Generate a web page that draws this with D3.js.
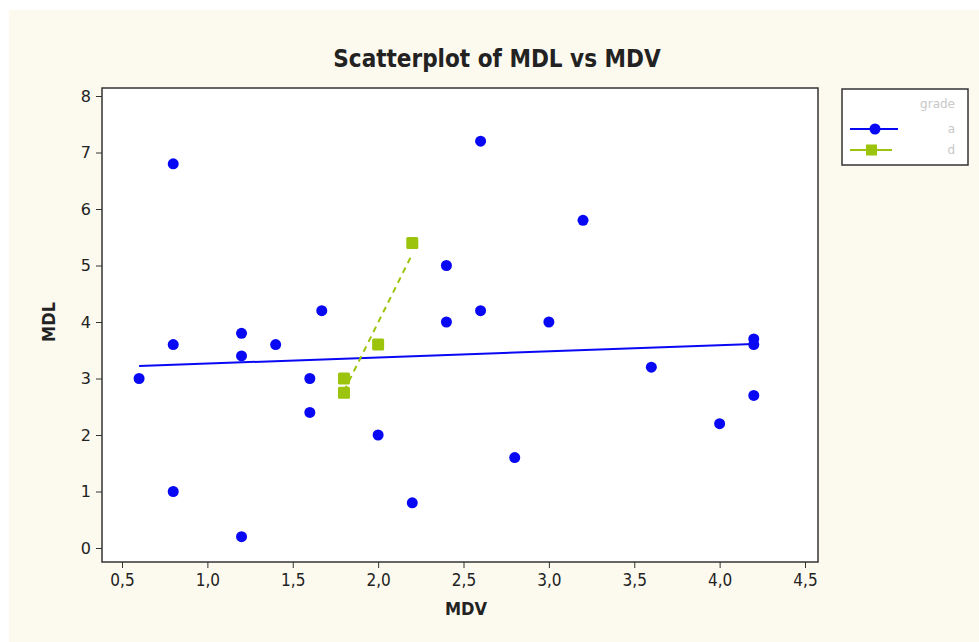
<!DOCTYPE html>
<html>
<head>
<meta charset="utf-8">
<script src="https://cdn.jsdelivr.net/npm/d3@7"></script>
<style>
    body { margin: 0; background: #fff; }
    #container { width: 979px; height: 642px; }
</style>
</head>
<body>
<div id="container"></div>
<script>
// Group "a" (blue dots)
const mdvA = [0.6, 0.8, 0.8, 0.8, 1.2, 1.2, 1.2, 1.4, 1.6, 1.6, 1.67, 2.0, 2.2, 2.4, 2.4, 2.6, 2.6, 2.8, 3.0, 3.2, 3.6, 4.0, 4.2, 4.2, 4.2];
const mdlA = [3.0, 6.8, 3.6, 1.0, 3.8, 3.4, 0.2, 3.6, 3.0, 2.4, 4.2, 2.0, 0.8, 5.0, 4.0, 7.2, 4.2, 1.6, 4.0, 5.8, 3.2, 2.2, 3.7, 3.6, 2.7];
// Group "d" (green squares)
const mdvD = [1.8, 1.8, 2.0, 2.2];
const mdlD = [3.0, 2.75, 3.6, 5.4];

const groups = ["a", "d"];
const xTicks = [0.5, 1.0, 1.5, 2.0, 2.5, 3.0, 3.5, 4.0, 4.5];
const yTicks = [0, 1, 2, 3, 4, 5, 6, 7, 8];

const width = 979;
const height = 642;

const colors = { a: "#0808f4", d: "#9cc40c" };

const svg = d3.select("#container").append("svg")
    .attr("width", width)
    .attr("height", height)
    .attr("style", "font-family: Tahoma, 'DejaVu Sans', sans-serif;");

// cream background
svg.append("rect")
    .attr("x", 9).attr("y", 10)
    .attr("width", width - 9).attr("height", height - 10)
    .attr("fill", "#fcf9ee");

// plot frame
const frame = { left: 102, top: 88, right: 818, bottom: 562 };
svg.append("rect")
    .attr("x", frame.left).attr("y", frame.top)
    .attr("width", frame.right - frame.left)
    .attr("height", frame.bottom - frame.top)
    .attr("fill", "#ffffff");

const x = d3.scaleLinear().domain([0.5, 4.5]).range([122, 805]);
const y = d3.scaleLinear().domain([0, 8]).range([548, 96]);

// axes
const xAxis = svg.append("g")
    .attr("transform", `translate(0,${frame.bottom})`)
    .call(d3.axisBottom(x).tickValues(xTicks).tickSize(6).tickPadding(6)
        .tickFormat(d => d3.format(".1f")(d).replace(".", ",")));
xAxis.select(".domain").remove();
xAxis.selectAll("line").attr("stroke", "#333");
xAxis.selectAll("text")
    .attr("fill", "#222")
    .attr("font-size", 17)
    .attr("font-family", "'DejaVu Sans Condensed', 'Liberation Sans Narrow', sans-serif");

const yAxis = svg.append("g")
    .attr("transform", `translate(${frame.left},0)`)
    .call(d3.axisLeft(y).tickValues(yTicks).tickSize(6).tickPadding(5));
yAxis.select(".domain").remove();
yAxis.selectAll("line").attr("stroke", "#333");
yAxis.selectAll("text")
    .attr("fill", "#222")
    .attr("font-size", 16)
    .attr("font-family", "'DejaVu Sans', sans-serif");

svg.append("rect")
    .attr("x", frame.left).attr("y", frame.top)
    .attr("width", frame.right - frame.left)
    .attr("height", frame.bottom - frame.top)
    .attr("fill", "none")
    .attr("stroke", "#333")
    .attr("stroke-width", 1.5);

// least squares fit line for a group
function fit(xs, ys) {
    const mx = d3.mean(xs), my = d3.mean(ys);
    const sxy = d3.sum(xs, (v, i) => (v - mx) * (ys[i] - my));
    const sxx = d3.sum(xs, v => (v - mx) * (v - mx));
    const b = sxy / sxx;
    const a = my - b * mx;
    const [x0, x1] = d3.extent(xs);
    return [[x0, a + b * x0], [x1, a + b * x1]];
}

const line = d3.line().x(d => x(d[0])).y(d => y(d[1]));

svg.append("path")
    .attr("d", line(fit(mdvA, mdlA)))
    .attr("stroke", colors.a)
    .attr("stroke-width", 2)
    .attr("fill", "none");

svg.append("path")
    .attr("d", line(fit(mdvD, mdlD)))
    .attr("stroke", colors.d)
    .attr("stroke-width", 2)
    .attr("stroke-dasharray", "6,5")
    .attr("fill", "none");

// points
svg.append("g")
    .selectAll("circle")
    .data(d3.zip(mdvA, mdlA))
    .join("circle")
    .attr("cx", d => x(d[0]))
    .attr("cy", d => y(d[1]))
    .attr("r", 5.5)
    .attr("fill", colors.a);

svg.append("g")
    .selectAll("rect")
    .data(d3.zip(mdvD, mdlD))
    .join("rect")
    .attr("x", d => x(d[0]) - 6)
    .attr("y", d => y(d[1]) - 6)
    .attr("width", 12)
    .attr("height", 12)
    .attr("rx", 1.5)
    .attr("fill", colors.d);

// title and axis labels
svg.append("text")
    .attr("x", 497).attr("y", 67)
    .attr("text-anchor", "middle")
    .attr("font-size", 24)
    .attr("font-weight", "bold")
    .attr("font-family", "'DejaVu Sans Condensed', 'Liberation Sans Narrow', sans-serif")
    .attr("fill", "#222")
    .text("Scatterplot of MDL vs MDV");

svg.append("text")
    .attr("x", 466).attr("y", 615)
    .attr("text-anchor", "middle")
    .attr("font-size", 18)
    .attr("font-weight", "bold")
    .attr("font-family", "'DejaVu Sans Condensed', sans-serif")
    .attr("fill", "#222")
    .text("MDV");

svg.append("text")
    .attr("transform", "translate(55,322) rotate(-90)")
    .attr("text-anchor", "middle")
    .attr("font-size", 18)
    .attr("font-weight", "bold")
    .attr("font-family", "'DejaVu Sans Condensed', sans-serif")
    .attr("fill", "#222")
    .text("MDL");

// legend
const legend = svg.append("g");
legend.append("rect")
    .attr("x", 842).attr("y", 89)
    .attr("width", 126).attr("height", 76)
    .attr("fill", "#ffffff")
    .attr("stroke", "#333")
    .attr("stroke-width", 1.5);
legend.append("text")
    .attr("x", 955).attr("y", 108)
    .attr("text-anchor", "end")
    .attr("font-size", 12)
    .attr("fill", "#c8c8c8")
    .text("grade");

const legendY = d3.scalePoint().domain(groups).range([129, 150]);
groups.forEach(g => {
    const ly = legendY(g);
    legend.append("line")
        .attr("x1", 850).attr("x2", g === "a" ? 898 : 892)
        .attr("y1", ly).attr("y2", ly)
        .attr("stroke", colors[g])
        .attr("stroke-width", 2);
    if (g === "a") {
        legend.append("circle")
            .attr("cx", 875).attr("cy", ly).attr("r", 5.5)
            .attr("fill", colors[g]);
    } else {
        legend.append("rect")
            .attr("x", 866).attr("y", ly - 5.5)
            .attr("width", 11).attr("height", 11)
            .attr("fill", colors[g]);
    }
    legend.append("text")
        .attr("x", 955).attr("y", ly + 4)
        .attr("text-anchor", "end")
        .attr("font-size", 12)
        .attr("fill", "#c8c8c8")
        .text(g);
});
</script>
</body>
</html>
